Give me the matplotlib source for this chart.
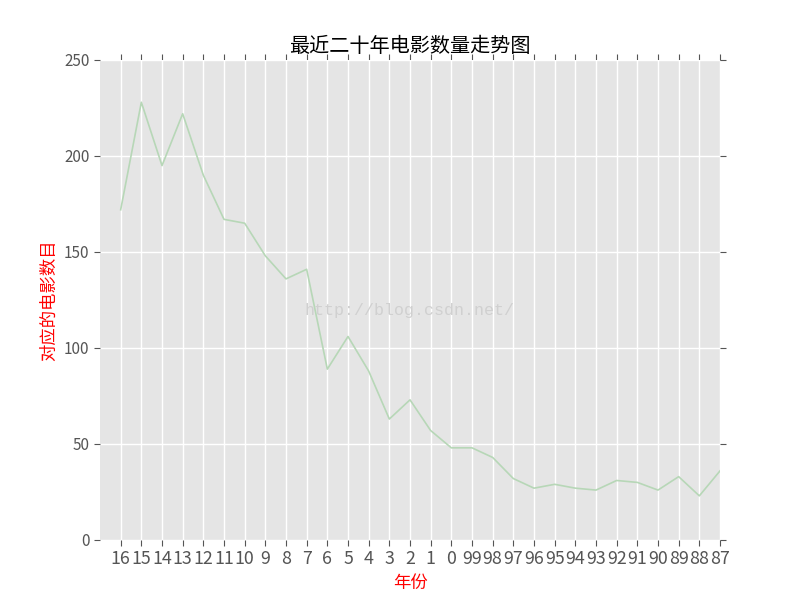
import matplotlib
matplotlib.use('Agg')
import matplotlib.pyplot as plt

plt.style.use('ggplot')
plt.rcParams['font.family'] = ['Noto Sans CJK SC', 'DejaVu Sans']

# years (last two digits), most recent first
years = ['16', '15', '14', '13', '12', '11', '10', '9', '8', '7', '6', '5', '4', '3', '2',
         '1', '0', '99', '98', '97', '96', '95', '94', '93', '92', '91', '90', '89', '88', '87']
counts = [172, 228, 195, 222, 190, 167, 165, 148, 136, 141, 89, 106, 88, 63, 73,
          57, 48, 48, 43, 32, 27, 29, 27, 26, 31, 30, 26, 33, 23, 36]

fig = plt.figure(figsize=(8, 6), dpi=100)
ax = fig.add_axes([0.125, 0.1, 0.775, 0.8])
ax.set_facecolor('#E5E5E5')

x = range(len(years))
ax.plot(x, counts, color='#b7d7b7', linewidth=1.2)

ax.set_xlim(-1, len(years) - 1)
ax.set_ylim(0, 250)
ax.set_xticks(list(x))
ax.set_xticklabels(years, fontsize=12.8, color='#555555')
ax.set_yticks([0, 50, 100, 150, 200, 250])
ax.tick_params(axis='y', labelsize=11, labelcolor='#555555')
ax.tick_params(direction='out', top=True, right=True, color='#555555', length=4)
ax.grid(True, color='white', linewidth=1)
for s in ax.spines.values():
    s.set_visible(False)

ax.set_title('最近二十年电影数量走势图', fontsize=14.5, color='black')
ax.set_xlabel('年份', color='red', fontsize=12.5, labelpad=4)
ax.set_ylabel('对应的电影数目', color='red', fontsize=12.5)

ax.text(0.5125, 0.483, 'http://blog.csdn.net/', transform=fig.transFigure,
        ha='center', va='center', fontsize=12, color='#d0d0d0',
        family='Liberation Mono')

fig.savefig('out.png', dpi=100)
